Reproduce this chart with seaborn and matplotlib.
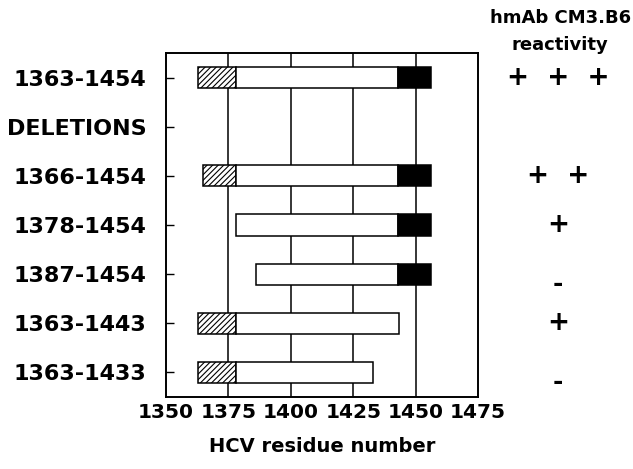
import numpy as np
import matplotlib
matplotlib.use("Agg")
import matplotlib.pyplot as plt
import seaborn as sns

# constructs, top to bottom
constructs = ["1363-1454", "DELETIONS", "1366-1454", "1378-1454",
              "1387-1454", "1363-1443", "1363-1433"]
# hatched N-terminal segment (nan = none)
hatch_start = [1363, np.nan, 1365, np.nan, np.nan, 1363, 1363]
hatch_end = [1378, np.nan, 1378, np.nan, np.nan, 1378, 1378]
# open segment
open_start = [1378, np.nan, 1378, 1378, 1386, 1378, 1378]
open_end = [1443, np.nan, 1443, 1443, 1443, 1443.5, 1433]
# black C-terminal segment
black_start = [1443, np.nan, 1443, 1443, 1443, np.nan, np.nan]
black_end = [1456, np.nan, 1456, 1456, 1456, np.nan, np.nan]
reactivity = ["+  +  +", "", "+  +", "+", "-", "+", "-"]
x_ticks = [1350, 1375, 1400, 1425, 1450, 1475]

sns.set_theme(style="white")
plt.rcParams["font.family"] = ["DejaVu Sans"]
plt.rcParams["hatch.linewidth"] = 0.8
plt.rcParams["text.color"] = "black"
plt.rcParams["axes.labelcolor"] = "black"
plt.rcParams["xtick.color"] = "black"
plt.rcParams["ytick.color"] = "black"

fig = plt.figure(figsize=(6.33, 4.69), dpi=100)
ax = fig.add_axes([0.2623, 0.1535, 0.4928, 0.7335])

y = np.arange(len(constructs))
h = 0.43
kw = dict(height=h, edgecolor="black", linewidth=1.1, zorder=3)

hs, he = np.array(hatch_start), np.array(hatch_end)
ax.barh(y, he - hs, left=hs, color="white", hatch="//////", **kw)
os_, oe = np.array(open_start), np.array(open_end)
ax.barh(y, oe - os_, left=os_, color="white", **kw)
bs, be = np.array(black_start), np.array(black_end)
ax.barh(y, be - bs, left=bs, color="black", **kw)

for xv in x_ticks[1:-1]:
    ax.axvline(xv, color="black", lw=1.1, zorder=1)

ax.set_xlim(1350, 1475)
ax.set_ylim(len(constructs) - 0.5, -0.5)
ax.set_xticks(x_ticks)
ax.set_yticks(y)
ax.set_yticklabels(constructs, fontsize=16, fontweight="bold")
ax.set_xticklabels([str(t) for t in x_ticks], fontsize=14.5, fontweight="bold")
ax.tick_params(axis="y", direction="in", length=6, width=1, pad=14, left=True)
ax.tick_params(axis="x", length=0, pad=4)
for s in ax.spines.values():
    s.set_color("black")
    s.set_linewidth(1.4)
ax.set_xlabel("HCV residue number", fontsize=14, fontweight="bold", labelpad=11)

# reactivity column
trans = matplotlib.transforms.blended_transform_factory(ax.transAxes, ax.transData)
for yi, r in zip(y, reactivity):
    if r == "-":
        ax.text(1.256, yi + 0.2, r, transform=trans, ha="center", va="center",
                fontsize=18, fontweight="bold", clip_on=False)
    elif r:
        ax.text(1.256, yi, r, transform=trans, ha="center", va="center",
                fontsize=19, fontweight="bold", clip_on=False)

fig.text(0.885, 0.962, "hmAb CM3.B6", ha="center", va="center",
         fontsize=13, fontweight="bold")
fig.text(0.885, 0.905, "reactivity", ha="center", va="center",
         fontsize=13, fontweight="bold")

fig.savefig("out.png", dpi=100)
